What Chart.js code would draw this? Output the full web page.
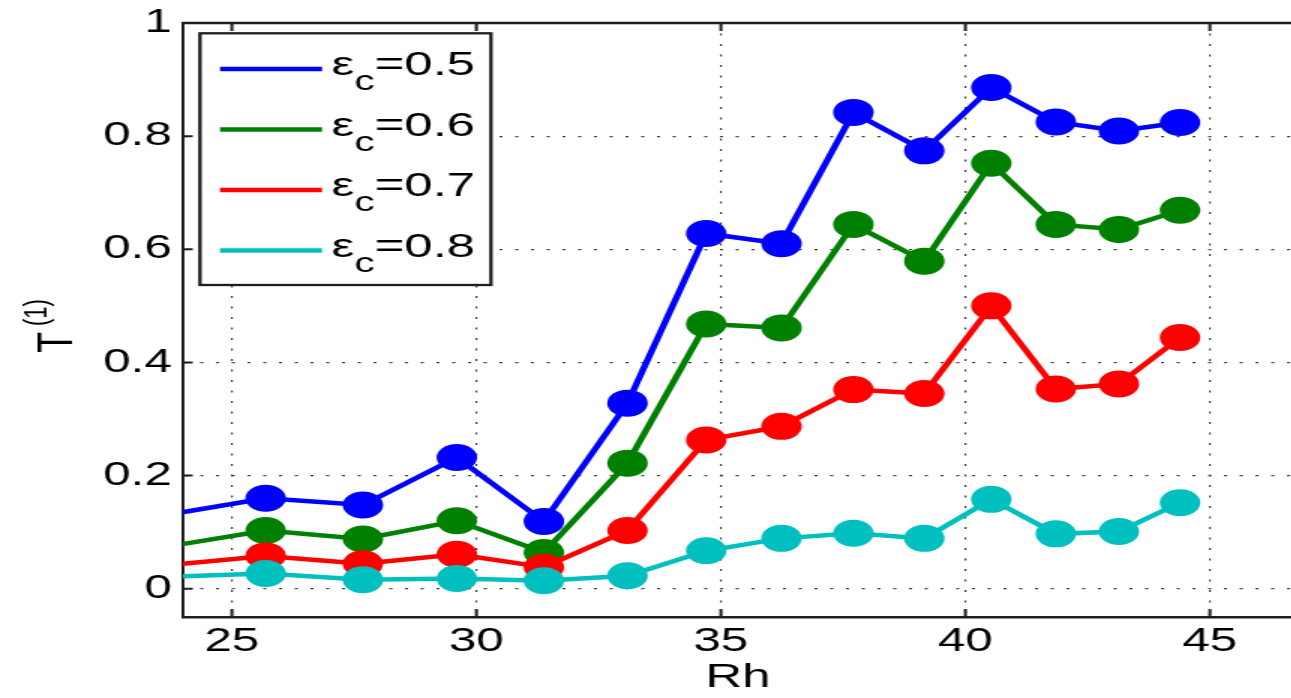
<!DOCTYPE html>
<html>
<head>
<meta charset="utf-8">
<script src="https://cdn.jsdelivr.net/npm/chart.js@4"></script>
<style>
  html, body { margin: 0; padding: 0; background: #fff; overflow: hidden; }
</style>
</head>
<body>
<canvas id="c" width="862" height="698" style="display:block;width:1293px;height:698px;"></canvas>
<script>
// ---- data ----
const Rh = [23.64, 25.69, 27.68, 29.60, 31.38, 33.09, 34.70, 36.24, 37.71, 39.16, 40.53, 41.85, 43.14, 44.39];
const T_eps05 = [0.130, 0.160, 0.148, 0.232, 0.119, 0.328, 0.628, 0.610, 0.842, 0.774, 0.886, 0.825, 0.809, 0.824];
const T_eps06 = [0.074, 0.103, 0.088, 0.120, 0.064, 0.222, 0.468, 0.461, 0.644, 0.579, 0.752, 0.644, 0.635, 0.669];
const T_eps07 = [0.041, 0.058, 0.044, 0.061, 0.038, 0.103, 0.263, 0.287, 0.352, 0.345, 0.500, 0.353, 0.362, 0.444];
const T_eps08 = [0.021, 0.027, 0.016, 0.018, 0.014, 0.023, 0.067, 0.089, 0.098, 0.089, 0.158, 0.097, 0.101, 0.152];
const epsValues = ['0.5', '0.6', '0.7', '0.8'];
const xTicks = [25, 30, 35, 40, 45];
const xTickLabels = ['25', '30', '35', '40', '45'];
const yTicks = [0, 0.2, 0.4, 0.6, 0.8, 1];
const yTickLabels = ['0', '0.2', '0.4', '0.6', '0.8', '1'];
const xTitle = 'Rh';
const yTitleMain = 'T';
const yTitleSup = '(1)';

// ---- styling ----
const X_MIN = 24, X_MAX = 46.7, Y_MIN = -0.05, Y_MAX = 1;
const colors = ['#0000ff', '#008000', '#ff0000', '#00bfbf'];
const FONT = '"Liberation Sans", Arial, Helvetica, sans-serif';
const AXIS = '#1e1e1e';

const series = [T_eps05, T_eps06, T_eps07, T_eps08];
const datasets = series.map((vals, i) => ({
  label: 'εc=' + epsValues[i],
  eps: epsValues[i],
  data: Rh.map((x, k) => ({ x: x, y: vals[k] })),
  borderColor: colors[i],
  backgroundColor: colors[i],
  borderWidth: 4.5,
  pointStyle: 'circle',
  pointBackgroundColor: colors[i],
  pointBorderWidth: 0,
  pointRadius: (ctx) => (ctx.raw && ctx.raw.x < X_MIN ? 0 : 13.5),
  pointHoverRadius: 13.5,
  tension: 0,
  order: 3 - i,
  clip: 0
}));

const axesDecor = {
  id: 'axesDecor',
  afterDatasetsDraw(chart) {
    const { ctx, chartArea: a, scales } = chart;
    const x = scales.x, y = scales.y;
    ctx.save();
    ctx.strokeStyle = AXIS;
    ctx.lineWidth = 2.5;
    ctx.beginPath();
    ctx.moveTo(a.left - 1, a.top);
    ctx.lineTo(a.right + 2, a.top);
    ctx.stroke();
    ctx.lineWidth = 2;
    ctx.beginPath();
    xTicks.forEach(v => {
      const px = x.getPixelForValue(v);
      ctx.moveTo(px, a.bottom); ctx.lineTo(px, a.bottom - 8);
      ctx.moveTo(px, a.top); ctx.lineTo(px, a.top + 8);
    });
    yTicks.forEach(v => {
      const py = y.getPixelForValue(v);
      ctx.moveTo(a.left, py); ctx.lineTo(a.left + 6.5, py);
    });
    ctx.stroke();
    // y axis title T^(1), rotated, centred on the plot area
    ctx.fillStyle = '#000';
    ctx.textBaseline = 'alphabetic';
    ctx.textAlign = 'left';
    ctx.font = '34px ' + FONT;
    const wMain = ctx.measureText(yTitleMain).width;
    ctx.font = '22px ' + FONT;
    const wSup = ctx.measureText(yTitleSup).width;
    const gap = 6;
    const total = wMain + gap + wSup;
    const cy = (a.top + a.bottom) / 2 + 6;
    ctx.translate(48, cy + total / 2);
    ctx.rotate(-Math.PI / 2);
    ctx.font = '34px ' + FONT;
    ctx.fillText(yTitleMain, 0, 0);
    ctx.font = '22px ' + FONT;
    ctx.fillText(yTitleSup, wMain + gap, -17);
    ctx.restore();
  }
};

const epsLegend = {
  id: 'epsLegend',
  afterDraw(chart) {
    const { ctx } = chart;
    const box = { l: 133.3, t: 33.3, r: 327.3, b: 285 };
    ctx.save();
    ctx.fillStyle = '#ffffff';
    ctx.fillRect(box.l, box.t, box.r - box.l, box.b - box.t);
    ctx.strokeStyle = AXIS;
    ctx.lineWidth = 2.3;
    ctx.strokeRect(box.l, box.t, box.r - box.l, box.b - box.t);
    const rows = [69, 129.5, 190, 250.5];
    chart.data.datasets.forEach((ds, i) => {
      const ry = rows[i];
      ctx.strokeStyle = ds.borderColor;
      ctx.lineWidth = 4.5;
      ctx.beginPath();
      ctx.moveTo(146.7, ry);
      ctx.lineTo(214.7, ry);
      ctx.stroke();
      ctx.fillStyle = '#000';
      ctx.textBaseline = 'alphabetic';
      ctx.textAlign = 'left';
      let tx = 221;
      ctx.font = '34px ' + FONT;
      ctx.fillText('ε', tx, ry + 6);
      tx += ctx.measureText('ε').width;
      ctx.font = '27px ' + FONT;
      ctx.fillText('c', tx, ry + 21);
      tx += ctx.measureText('c').width;
      ctx.font = '34px ' + FONT;
      ctx.fillText('=' + ds.eps, tx, ry + 6);
    });
    ctx.restore();
  }
};

new Chart(document.getElementById('c'), {
  type: 'line',
  data: { datasets: datasets },
  options: {
    responsive: false,
    devicePixelRatio: 1,
    animation: false,
    events: [],
    layout: { autoPadding: false, padding: { top: 23, left: 0, right: 0, bottom: 0 } },
    plugins: { legend: { display: false }, tooltip: { enabled: false } },
    scales: {
      x: {
        type: 'linear',
        min: X_MIN, max: X_MAX,
        afterBuildTicks: (s) => { s.ticks = xTicks.map(v => ({ value: v })); },
        afterFit: (s) => { s.height = 81; s.paddingLeft = 0; s.paddingRight = 0; },
        ticks: {
          autoSkip: false, maxRotation: 0,
          padding: 5,
          color: '#000',
          font: { family: FONT, size: 33 },
          callback: (v) => xTickLabels[xTicks.indexOf(v)]
        },
        grid: { display: true, drawTicks: false, color: '#3a3a3a', lineWidth: 1.2 },
        border: { display: true, color: AXIS, width: 2.5, dash: [2, 8.5] },
        title: { display: true, text: xTitle, color: '#000', font: { family: FONT, size: 34 }, padding: { top: 0, bottom: 0 } }
      },
      y: {
        type: 'linear',
        min: Y_MIN, max: Y_MAX,
        afterBuildTicks: (s) => { s.ticks = yTicks.map(v => ({ value: v })); },
        afterFit: (s) => { s.width = 122; s.paddingTop = 0; s.paddingBottom = 0; },
        ticks: {
          padding: 7.5,
          color: '#000',
          font: { family: FONT, size: 33 },
          callback: (v) => yTickLabels[yTicks.indexOf(v)]
        },
        grid: { display: true, drawTicks: false, color: '#3a3a3a', lineWidth: 1.2 },
        border: { display: true, color: AXIS, width: 2, dash: [2, 8.5] },
        title: { display: false }
      }
    }
  },
  plugins: [axesDecor, epsLegend]
});
</script>
</body>
</html>
